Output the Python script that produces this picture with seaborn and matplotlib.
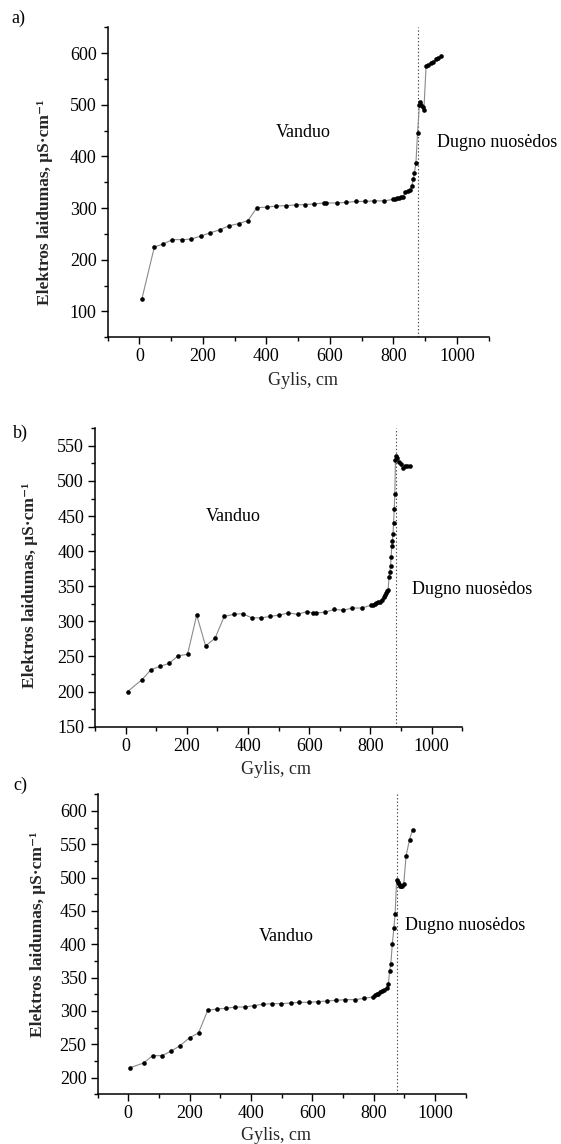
import matplotlib
matplotlib.use("Agg")
import matplotlib.pyplot as plt
from matplotlib.ticker import MultipleLocator
import seaborn as sns
import pandas as pd

# ---------------- data ----------------
depth_a = [8, 47, 73, 104, 133, 163, 193, 222, 253, 283, 313, 342, 370, 402, 431, 463,
           492, 521, 551, 582, 589, 621, 651, 681, 710, 740, 770, 800, 806, 812, 818,
           824, 830, 838, 845, 851, 858, 863, 866, 871, 876, 882, 885, 888, 892, 896,
           903, 910, 918, 926, 934, 941, 949]
cond_a = [125, 225, 230, 239, 239, 240, 246, 252, 258, 266, 270, 276, 301, 302, 304, 305,
          306, 307, 308, 310, 310, 310, 311, 313, 313, 314, 314, 317, 318, 319, 320,
          321, 322, 331, 333, 335, 343, 356, 368, 387, 445, 500, 506, 500, 495, 490,
          576, 578, 580, 583, 588, 591, 594]

depth_b = [6, 53, 82, 112, 141, 171, 202, 232, 261, 292, 322, 353, 382, 412, 442, 472,
           502, 532, 562, 592, 612, 621, 652, 681, 712, 741, 772, 802, 808, 814, 820,
           826, 832, 838, 843, 847, 851, 855, 858, 861, 864, 866, 868, 870, 872, 874,
           876, 878, 880, 882, 885, 888, 893, 900, 906, 913, 920, 931]
cond_b = [200, 217, 231, 236, 240, 251, 253, 309, 265, 276, 307, 310, 311, 305, 305, 307,
          309, 312, 310, 314, 312, 312, 313, 317, 316, 319, 319, 323, 324, 325, 326,
          327, 328, 331, 334, 338, 341, 343, 345, 363, 371, 379, 392, 407, 414, 425,
          440, 460, 481, 530, 536, 533, 527, 524, 518, 522, 522, 521]

depth_c = [6, 50, 79, 110, 140, 169, 200, 229, 259, 290, 319, 349, 380, 409, 439, 468,
           499, 529, 558, 589, 618, 648, 678, 708, 738, 768, 798, 804, 810, 815, 821,
           827, 835, 842, 848, 852, 856, 861, 866, 870, 875, 878, 882, 886, 890, 894,
           898, 906, 917, 927]
cond_c = [215, 222, 233, 233, 240, 248, 260, 267, 301, 303, 304, 306, 306, 308, 310, 311,
          311, 312, 313, 313, 314, 315, 316, 317, 317, 319, 321, 324, 325, 326, 328,
          330, 332, 334, 340, 360, 370, 401, 424, 445, 497, 494, 491, 488, 487, 488,
          490, 533, 557, 572]

boundary = [878, 885, 876]
panel_letters = ["a)", "b)", "c)"]
x_label = "Gylis, cm"
y_label = "Elektros laidumas, μS·cm⁻¹"
water_text = "Vanduo"
sed_text = "Dugno nuosėdos"

# ---------------- style ----------------
sns.set_theme(style="ticks")
plt.rcParams["font.family"] = ["Liberation Serif", "DejaVu Serif"]
plt.rcParams["axes.edgecolor"] = "black"
plt.rcParams["xtick.color"] = "black"
plt.rcParams["ytick.color"] = "black"
plt.rcParams["text.color"] = "black"

fig = plt.figure(figsize=(5.61, 11.44), dpi=100)

panels = [
    dict(x=depth_a, y=cond_a, pos=[0.192, 0.7052, 0.679, 0.2709], ylim=(50, 650),
         ymaj=100, ymin=50, water=(516, 446), sed=(936, 428),
         ylab=(-0.165, 0.437), xlab=(0.512, -0.141), letter=(18, 18)),
    dict(x=depth_b, y=cond_b, pos=[0.1697, 0.3648, 0.654, 0.2608], ylim=(150, 575),
         ymaj=50, ymin=25, water=(351, 450), sed=(936, 345),
         ylab=(-0.179, 0.475), xlab=(0.494, -0.145), letter=(20, 433)),
    dict(x=depth_c, y=cond_c, pos=[0.174, 0.0434, 0.656, 0.2623], ylim=(175, 625),
         ymaj=50, ymin=25, water=(514, 412), sed=(903, 428),
         ylab=(-0.163, 0.534), xlab=(0.486, -0.136), letter=(20, 785)),
]

W, H = 561, 1144
for i, p in enumerate(panels):
    ax = fig.add_axes(p["pos"])
    df = pd.DataFrame({"depth": p["x"], "cond": p["y"]})
    sns.lineplot(data=df, x="depth", y="cond", ax=ax, sort=False, color="#8a8a8a",
                 linewidth=0.8, zorder=2)
    sns.scatterplot(data=df, x="depth", y="cond", ax=ax, color="black", s=11,
                    linewidth=0, zorder=3)
    ax.axvline(boundary[i], color="#444444", linestyle=(0, (1.2, 2.0)), linewidth=0.8,
               zorder=1)
    ax.set_xlim(-100, 1100)
    ax.set_ylim(*p["ylim"])
    ax.xaxis.set_major_locator(MultipleLocator(200))
    ax.xaxis.set_minor_locator(MultipleLocator(100))
    ax.yaxis.set_major_locator(MultipleLocator(p["ymaj"]))
    ax.yaxis.set_minor_locator(MultipleLocator(p["ymin"]))
    ax.tick_params(which="major", direction="out", length=5, width=1.0, labelsize=13, pad=3)
    ax.tick_params(which="minor", direction="out", length=3, width=1.0)
    sns.despine(ax=ax)
    for s in ("left", "bottom"):
        ax.spines[s].set_linewidth(1.1)
    ax.set_xlabel(x_label, fontsize=13)
    ax.set_ylabel(y_label, fontsize=12.5, fontweight="bold")
    ax.xaxis.set_label_coords(*p["xlab"])
    ax.yaxis.set_label_coords(*p["ylab"])
    ax.xaxis.label.set_va("center")
    ax.yaxis.label.set_va("center")
    ax.text(p["water"][0], p["water"][1], water_text, fontsize=13, ha="center", va="center")
    ax.text(p["sed"][0], p["sed"][1], sed_text, fontsize=13, ha="left", va="center",
            clip_on=False)
    lx, ly = p["letter"]
    fig.text(lx / W, 1 - ly / H, panel_letters[i], fontsize=13, ha="center", va="center")

fig.savefig("out.png", dpi=100)
